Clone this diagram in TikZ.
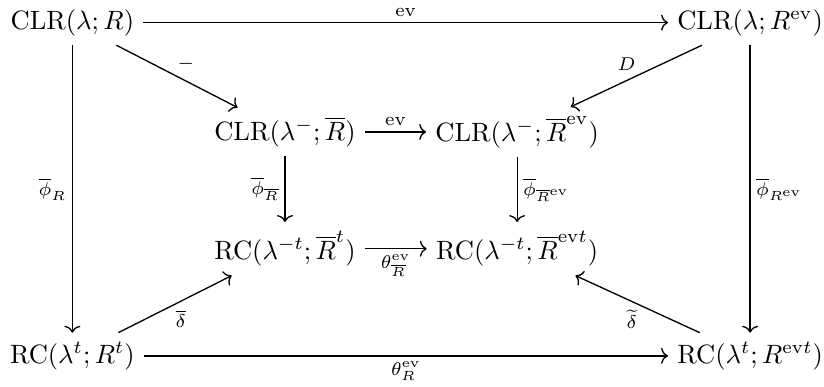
\documentclass[tikz,border=0pt]{standalone}
\usepackage{amsmath,amssymb}
\usepackage{tikz}
\usetikzlibrary{arrows.meta,positioning}

\begin{document}
\begin{tikzpicture}[
  mor/.style={-{To[length=2.6pt,width=6pt]}, line width=0.5pt},
  lab/.style={font=\scriptsize, inner sep=2pt}
]
\useasboundingbox (0,0) rectangle (10.93,5.13);

% outer square
\node (clr)   at (0.96,4.83) {$\mathrm{CLR}(\lambda;R)$};
\node (clrev) at (9.95,4.83) {$\mathrm{CLR}(\lambda;R^{\mathrm{ev}})$};
\node (rc)    at (0.96,0.41) {$\mathrm{RC}(\lambda^{t};R^{t})$};
\node (rcev)  at (9.95,0.41) {$\mathrm{RC}(\lambda^{t};R^{\mathrm{ev}t})$};

% inner square
\node (clrm)   at (3.78,3.38) {$\mathrm{CLR}(\lambda^{-};\overline{R})$};
\node (clrmev) at (6.86,3.38) {$\mathrm{CLR}(\lambda^{-};\overline{R}^{\mathrm{ev}})$};
\node (rcm)    at (3.78,1.83) {$\mathrm{RC}(\lambda^{-t};\overline{R}^{t})$};
\node (rcmev)  at (6.86,1.83) {$\mathrm{RC}(\lambda^{-t};\overline{R}^{\mathrm{ev}t})$};

\draw[mor] (clr) -- node[lab,above] {$\mathrm{ev}$} (clrev);
\draw[mor] (rc) -- node[lab,below] {$\theta^{\mathrm{ev}}_{R}$} (rcev);
\draw[mor] (clr) -- node[lab,left] {$\overline{\phi}_{R}$} (rc);
\draw[mor] (clrev) -- node[lab,right] {$\overline{\phi}_{R^{\mathrm{ev}}}$} (rcev);

\draw[mor] (clrm) -- node[lab,above] {$\mathrm{ev}$} (clrmev);
\draw[mor] (rcm) -- node[lab,below] {$\theta^{\mathrm{ev}}_{\overline{R}}$} (rcmev);
\draw[mor] (clrm) -- node[lab,left] {$\overline{\phi}_{\overline{R}}$} (rcm);
\draw[mor] (clrmev) -- node[lab,right] {$\overline{\phi}_{\overline{R}^{\mathrm{ev}}}$} (rcmev);

% diagonals
\draw[mor] (clr) -- node[lab,above right=0pt and -2pt] {$-$} (clrm);
\draw[mor] (clrev) -- node[lab,above left=0pt and -2pt] {$D$} (clrmev);
\draw[mor] (rc) -- node[lab,below right=0pt and -2pt] {$\overline{\delta}$} (rcm);
\draw[mor] (rcev) -- node[lab,below left=0pt and -2pt] {$\widetilde{\delta}$} (rcmev);
\end{tikzpicture}
\end{document}
